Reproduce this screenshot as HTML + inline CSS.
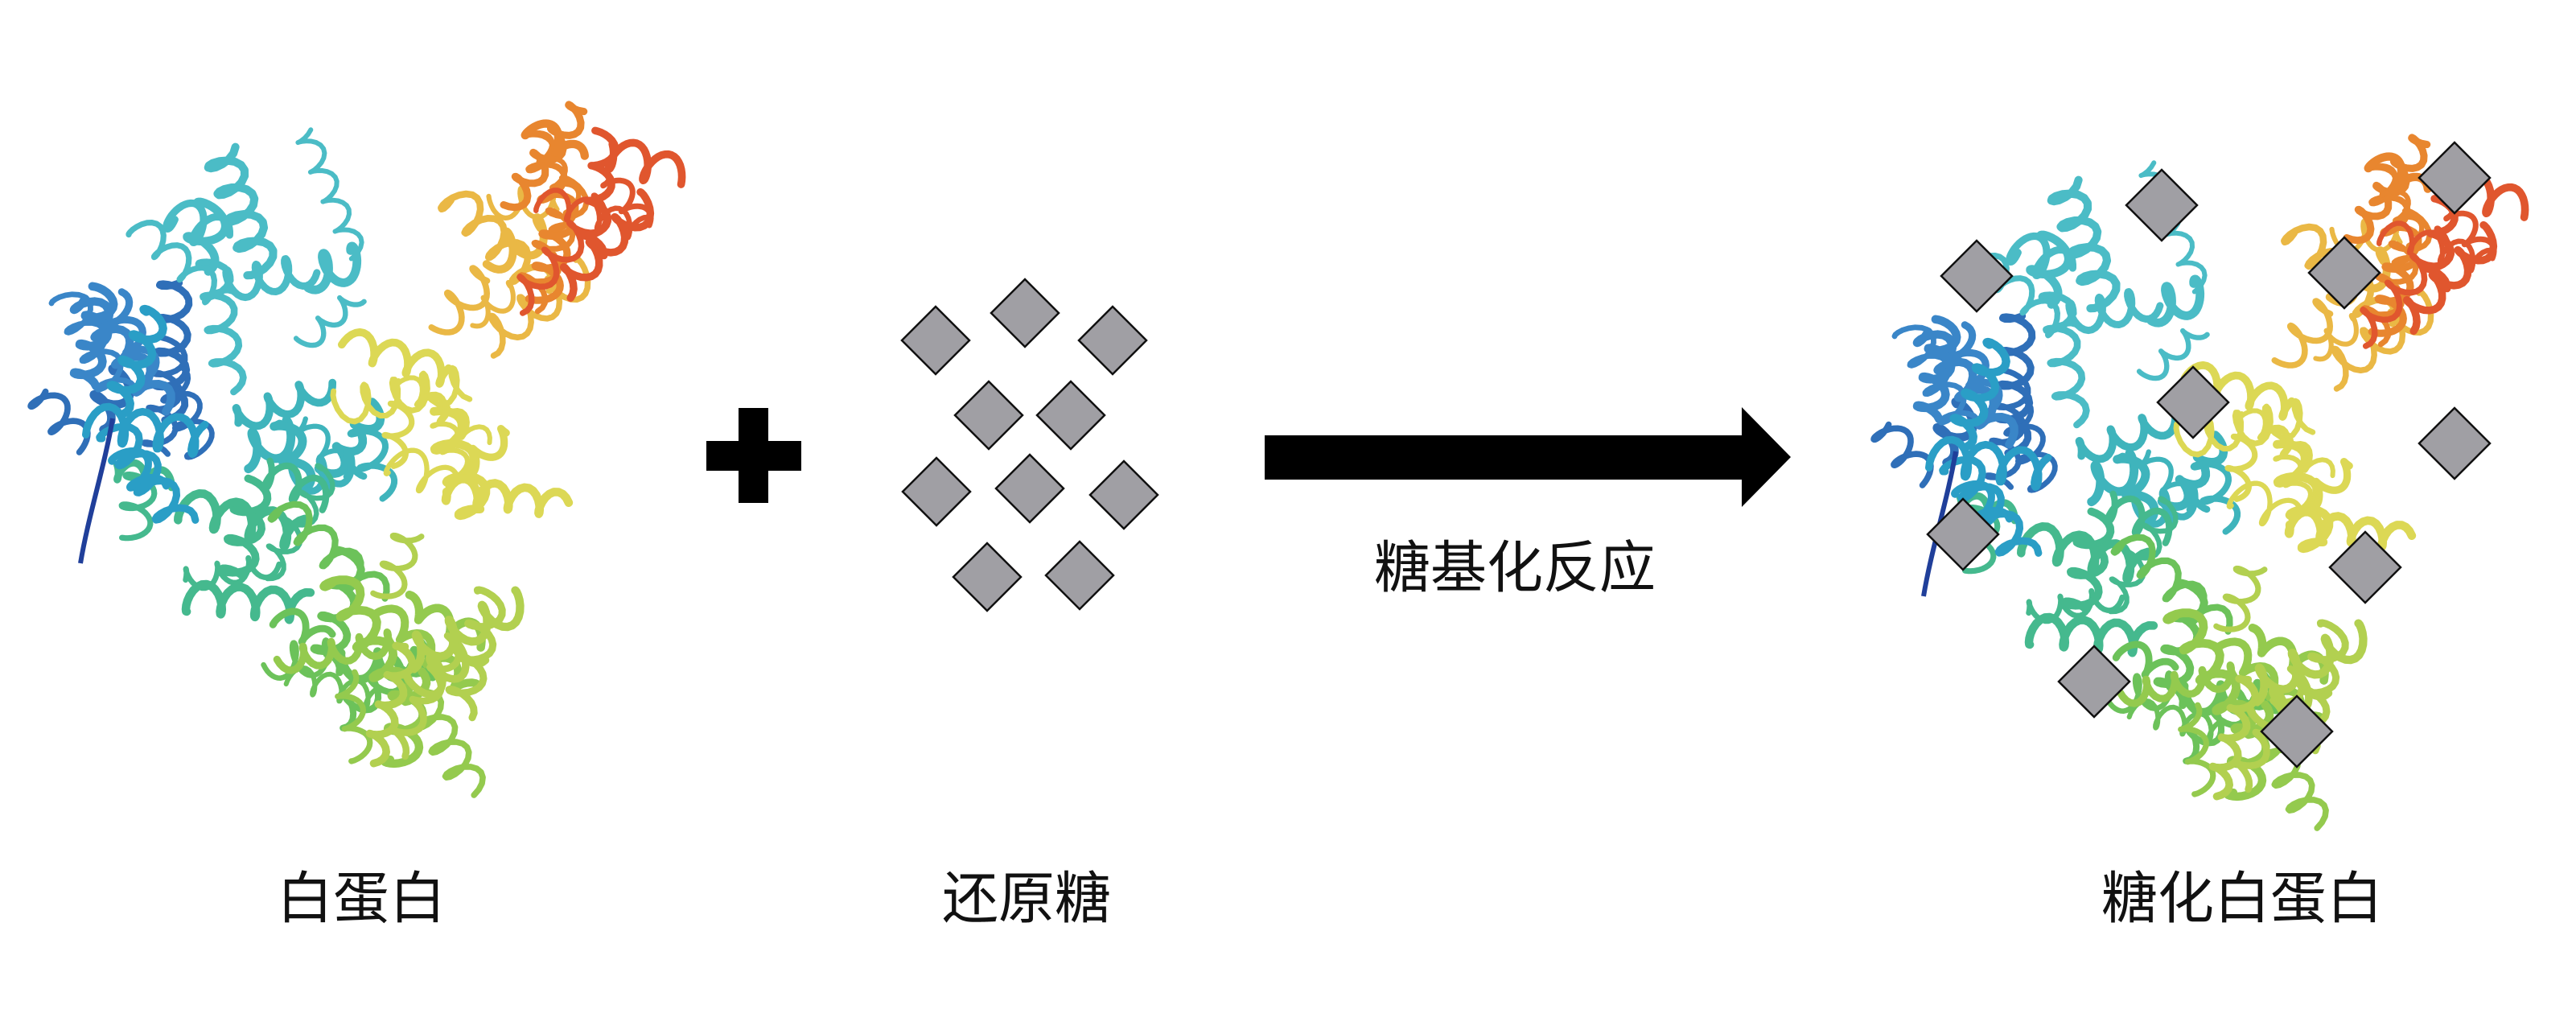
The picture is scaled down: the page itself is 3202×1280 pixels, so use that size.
<!DOCTYPE html>
<html><head><meta charset="utf-8"><style>
html,body{margin:0;padding:0;background:#fff;}
body{width:3202px;height:1280px;position:relative;overflow:hidden;font-family:"Liberation Sans","Noto Sans CJK SC",sans-serif;}
.lbl{position:absolute;font-size:70px;color:#111;transform:translate(-50%,-50%);white-space:nowrap;}
svg{position:absolute;left:0;top:0;}
</style></head><body>
<svg id="s" width="3202" height="1280" viewBox="0 0 3202 1280">
<g id="prot"></g>
<use href="#prot" transform="translate(2291,41)"/>
<rect x="878" y="548" width="118" height="37" fill="#000"/>
<rect x="918" y="507" width="37" height="118" fill="#000"/>
<rect x="1572" y="541" width="600" height="55" fill="#000"/>
<polygon points="2165,506 2226,568 2165,630" fill="#000"/>
<g id="dia" fill="#a09fa4" stroke="#111" stroke-width="2.5"></g>
</svg>
<div class="lbl" style="left:449px;top:1111px">白蛋白</div>
<div class="lbl" style="left:1276px;top:1111px">还原糖</div>
<div class="lbl" style="left:1883px;top:700px">糖基化反应</div>
<div class="lbl" style="left:2787px;top:1111px">糖化白蛋白</div>
<script>
var ns="http://www.w3.org/2000/svg";
var seed=7;function r(){seed=(seed*16807)%2147483647;return seed/2147483647;}
var regs=[
[160,470,110,70,"#2f6fb8",5],
[180,440,90,50,"#3a86c8",4],
[330,300,130,150,"#4bbcc6",9],
[390,520,100,110,"#3fb4bc",7],
[270,660,130,120,"#45b98e",8],
[420,760,100,120,"#6cc25a",7],
[480,860,110,110,"#94ca4e",7],
[540,800,70,140,"#b2d050",6],
[570,540,100,130,"#dcd855",9],
[620,330,80,100,"#eab845",6],
[680,240,60,120,"#e8862f",6],
[740,290,70,120,"#e0562e",6],
[160,500,90,120,"#2a9ec6",4]
];
var g=document.getElementById("prot");
regs.forEach(function(R){
 for(var i=0;i<R[5];i++){
  var cx=R[0]+(r()-0.5)*R[2]*1.6,cy=R[1]+(r()-0.5)*R[3]*1.6;
  var ang=r()*Math.PI,len=60+r()*120,amp=12+r()*10,per=34+r()*12;
  var d="",n=60;
  for(var k=0;k<=n;k++){var t=k/n*len-len/2;var ph=t/per*2*Math.PI;var w=Math.sin(ph)*amp;var u=Math.cos(ph)*amp*0.5;
   var x=cx+Math.cos(ang)*(t+u)-Math.sin(ang)*w,y=cy+Math.sin(ang)*(t+u)+Math.cos(ang)*w;
   d+=(k?"L":"M")+x.toFixed(1)+" "+y.toFixed(1);}
  var p=document.createElementNS(ns,"path");p.setAttribute("d",d);p.setAttribute("fill","none");
  p.setAttribute("stroke",R[4]);p.setAttribute("stroke-width",6+r()*5);p.setAttribute("stroke-linecap","round");p.setAttribute("stroke-linejoin","round");
  g.appendChild(p);
 }
});
var tail=document.createElementNS(ns,"path");tail.setAttribute("d","M140 520 C130 580 110 640 100 700");tail.setAttribute("stroke","#203f9a");tail.setAttribute("stroke-width","6");tail.setAttribute("fill","none");g.appendChild(tail);
var D=[[1163,423,42],[1274,389,42],[1383,423,42],[1229,516,42],[1331,516,42],[1164,611,42],[1280,607,42],[1397,615,42],[1227,717,42],[1342,715,42],
[2687,255,44],[2457,343,44],[2914,339,44],[3051,221,44],[2726,500,44],[3051,551,44],[2440,664,44],[2940,705,44],[2603,847,44],[2855,909,44]];
var dg=document.getElementById("dia");
D.forEach(function(a){var x=a[0],y=a[1],h=a[2];var p=document.createElementNS(ns,"polygon");
p.setAttribute("points",x+","+(y-h)+" "+(x+h)+","+y+" "+x+","+(y+h)+" "+(x-h)+","+y);dg.appendChild(p);});
</script>
</body></html>
